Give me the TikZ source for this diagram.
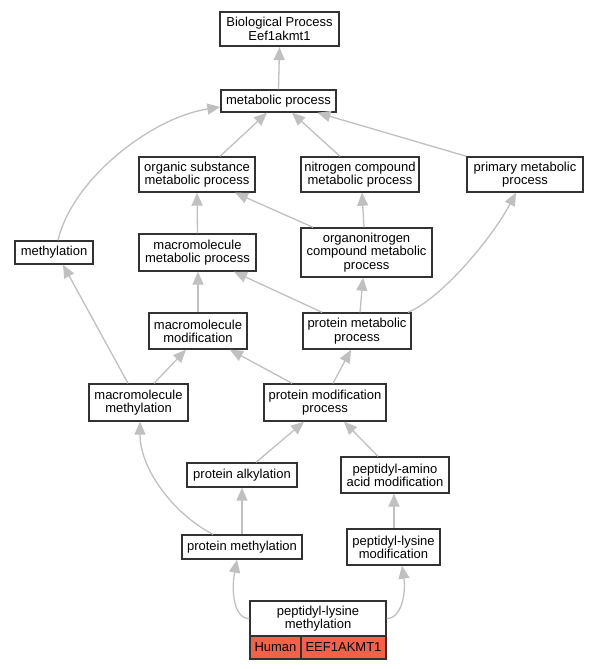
\documentclass[tikz,border=0pt]{standalone}
\usepackage{fontspec}
\setmainfont{Liberation Sans}
\usetikzlibrary{arrows.meta}
\definecolor{edgegray}{RGB}{192,192,192}
\definecolor{boxline}{RGB}{50,50,50}
\definecolor{orgred}{RGB}{243,98,72}
\begin{document}
\begin{tikzpicture}[x=1pt,y=-1pt,
  gobox/.style={draw=boxline, line width=1.4pt, fill=white, align=center, inner sep=0pt,
     font=\fontsize{13}{13.3}\selectfont},
  rootbox/.style={gobox, line width=2.2pt},
  cell/.style={draw=boxline, line width=1.4pt, fill=orgred, inner sep=0pt,
     font=\fontsize{13}{13.3}\selectfont},
  edge/.style={draw=edgegray, line width=1.3pt, -{Triangle[length=13pt,width=11pt]}}]
\useasboundingbox (0,0) rectangle (596,669);
\fill[white] (0,0) rectangle (596,669);

\node[rootbox, minimum width=119pt, minimum height=34pt] (bp) at (279.5,29) {Biological Process\\Eef1akmt1};
\node[gobox, minimum width=115pt, minimum height=22pt] (met) at (278.5,101) {metabolic process};
\node[gobox, minimum width=116pt, minimum height=35pt] (org) at (197,174.5) {organic substance\\metabolic process};
\node[gobox, minimum width=118pt, minimum height=35pt] (nit) at (360,174.5) {nitrogen compound\\metabolic process};
\node[gobox, minimum width=116pt, minimum height=35pt] (pri) at (525,174.5) {primary metabolic\\process};
\node[gobox, minimum width=78pt, minimum height=23pt] (mth) at (54,252.5) {methylation};
\node[gobox, minimum width=117pt, minimum height=37pt] (mmp) at (197.5,252.5) {macromolecule\\metabolic process};
\node[gobox, minimum width=131pt, minimum height=49pt] (onc) at (366.5,252.5) {organonitrogen\\compound metabolic\\process};
\node[gobox, minimum width=98pt, minimum height=36pt] (mmo) at (198,331) {macromolecule\\modification};
\node[gobox, minimum width=108pt, minimum height=36pt] (pmp) at (357,331) {protein metabolic\\process};
\node[gobox, minimum width=99pt, minimum height=37pt] (mme) at (138.5,402.5) {macromolecule\\methylation};
\node[gobox, minimum width=122pt, minimum height=37pt] (pmo) at (325,402.5) {protein modification\\process};
\node[gobox, minimum width=110pt, minimum height=24pt] (pal) at (242,475) {protein alkylation};
\node[gobox, minimum width=108pt, minimum height=36pt] (pam) at (395,475) {peptidyl-amino\\acid modification};
\node[gobox, minimum width=120pt, minimum height=24pt] (pme) at (242,547) {protein methylation};
\node[gobox, minimum width=93pt, minimum height=36pt] (plm) at (393.5,547) {peptidyl-lysine\\modification};
\node[gobox, minimum width=136pt, minimum height=35pt] (plt) at (318,618.5) {peptidyl-lysine\\methylation};
\node[cell, minimum width=51pt, minimum height=23pt] (hum) at (275.5,647.5) {Human};
\node[cell, minimum width=85pt, minimum height=23pt] (eef) at (343.5,647.5) {EEF1AKMT1};

\draw[edge] (met.north) -- (bp.south);
\draw[edge] ([xshift=23pt]org.north) -- ([xshift=-11.5pt]met.south);
\draw[edge] ([xshift=-20pt]nit.north) -- ([xshift=13.5pt]met.south);
\draw[edge] (pri.north west) -- ([xshift=39pt]met.south);
\draw[edge] ([xshift=4pt]mth.north) .. controls (72,180) and (150,118) .. ([yshift=-6pt]met.west);
\draw[edge] (mmp.north) -- (org.south);
\draw[edge] ([xshift=-53.5pt]onc.north) -- ([xshift=38pt]org.south);
\draw[edge] ([xshift=-2.5pt]onc.north) -- ([xshift=2pt]nit.south);
\draw[edge] (mmo.north) -- ([xshift=0.5pt]mmp.south);
\draw[edge] ([xshift=-35pt]pmp.north) -- ([xshift=36.5pt]mmp.south);
\draw[edge] ([xshift=3pt]pmp.north) -- ([xshift=-3.5pt]onc.south);
\draw[edge] ([xshift=51pt]pmp.north) .. controls (442,298) and (492,238) .. ([xshift=-9pt]pri.south);
\draw[edge] ([xshift=-10.5pt]mme.north) -- ([xshift=9pt]mth.south);
\draw[edge] ([xshift=15.5pt]mme.north) -- ([xshift=-12pt]mmo.south);
\draw[edge] ([xshift=-33pt]pmo.north) -- ([xshift=32pt]mmo.south);
\draw[edge] ([xshift=8pt]pmo.north) -- ([xshift=-6pt]pmp.south);
\draw[edge] ([xshift=14pt]pal.north) -- ([xshift=-21pt]pmo.south);
\draw[edge] ([xshift=-17pt]pam.north) -- ([xshift=19pt]pmo.south);
\draw[edge] ([xshift=-29pt]pme.north) .. controls (175,515) and (140,470) .. ([xshift=1.5pt]mme.south);
\draw[edge] (pme.north) -- (pal.south);
\draw[edge] ([xshift=0.5pt]plm.north) -- ([xshift=-1pt]pam.south);
\draw[edge] (plt.west) .. controls (234,618.5) and (231,592) .. ([xshift=-5pt]pme.south);
\draw[edge] (plt.east) .. controls (402,618.5) and (406,592) .. ([xshift=8.5pt]plm.south);
\end{tikzpicture}
\end{document}
